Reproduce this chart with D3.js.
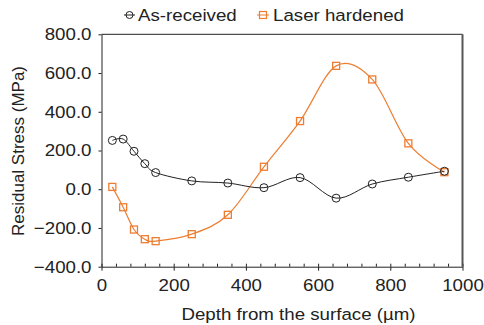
<!DOCTYPE html>
<html>
<head>
<meta charset="utf-8">
<script src="https://cdn.jsdelivr.net/npm/d3@7"></script>
<style>
  body { margin: 0; background: #fff; }
  svg { font-family: "Liberation Sans", Arial, sans-serif; }
</style>
</head>
<body>
<div id="container"></div>
<script>
// Data
var depth = [30, 60, 90, 120, 150, 250, 350, 450, 550, 650, 750, 850, 950];
var asReceived = [252, 259, 196, 132, 86, 43, 32, 8, 60, -46, 27, 62, 93];
var laserHardened = [12, -93, -208, -258, -268, -232, -132, 116, 352, 637, 567, 237, 88];
var xMajor = [0, 200, 400, 600, 800, 1000];
var yMajor = [-400, -200, 0, 200, 400, 600, 800];
var seriesNames = ["As-received", "Laser hardened"];

drawChart();

function drawChart() {

  var width = 484,
      height = 325;
  var plotLeft = 101.5, plotRight = 462.5, plotTop = 34.3, plotBottom = 266.7;
  var stretch = 1.1;   // text in the source is a little wider than Arial
  var orange = "#ED7D31", ink = "#222";

  var svg = d3.select("#container")
              .append("svg")
                .attr("width", width)
                .attr("height", height);

  var x = d3.scaleLinear().domain([0, 1000]).range([plotLeft, plotRight]);
  var y = d3.scaleLinear().domain([-400, 800]).range([plotBottom, plotTop]);

  // X axis: major ticks crossing the line, minor ticks every 40 inside
  var xAxis = svg.append("g")
      .attr("transform", "translate(0," + plotBottom + ")")
      .call(d3.axisBottom(x).tickValues(xMajor).tickSize(4).tickSizeOuter(0)
              .tickFormat(d3.format("d")).tickPadding(8));
  xAxis.selectAll("text")
      .attr("transform", "scale(" + stretch + ",1)");

  svg.append("g")
      .attr("transform", "translate(0," + plotBottom + ")")
      .call(d3.axisTop(x).tickValues(d3.range(0, 1001, 40)).tickSize(3).tickFormat(""))
      .select(".domain").remove();

  // Y axis
  var yAxis = svg.append("g")
      .attr("transform", "translate(" + plotLeft + ",0)")
      .call(d3.axisLeft(y).tickValues(yMajor).tickSize(3).tickSizeOuter(0)
              .tickFormat(d3.format(".1f")));
  yAxis.selectAll("text")
      .attr("transform", "scale(" + stretch + ",1)")
      .attr("x", -10 / stretch);

  svg.selectAll(".tick text")
      .attr("font-size", 17)
      .attr("font-family", "Liberation Sans, Arial, sans-serif")
      .attr("fill", ink);
  svg.selectAll(".domain, .tick line").attr("stroke", ink);

  // Top and right frame
  svg.append("line")
      .attr("x1", plotLeft).attr("x2", plotRight)
      .attr("y1", plotTop).attr("y2", plotTop)
      .attr("stroke", ink).attr("stroke-width", 1);
  svg.append("line")
      .attr("x1", plotRight).attr("x2", plotRight)
      .attr("y1", plotTop).attr("y2", plotBottom)
      .attr("stroke", "#555").attr("stroke-width", 2);

  // Smoothed lines
  var line = d3.line()
      .x(function(d) { return x(d[0]); })
      .y(function(d) { return y(d[1]); })
      .curve(d3.curveCardinal.tension(0));

  var blackData = d3.zip(depth, asReceived);
  var orangeData = d3.zip(depth, laserHardened);

  svg.append("path")
      .datum(orangeData)
      .attr("d", line)
      .attr("fill", "none")
      .attr("stroke", orange)
      .attr("stroke-width", 1.2);

  svg.append("path")
      .datum(blackData)
      .attr("d", line)
      .attr("fill", "none")
      .attr("stroke", ink)
      .attr("stroke-width", 1);

  // Markers
  svg.append("g")
    .selectAll("rect")
    .data(orangeData)
    .enter()
    .append("rect")
      .attr("x", function(d) { return x(d[0]) - 3.5; })
      .attr("y", function(d) { return y(d[1]) - 3.5; })
      .attr("width", 7)
      .attr("height", 7)
      .attr("fill", "none")
      .attr("stroke", orange)
      .attr("stroke-width", 1.3);

  svg.append("g")
    .selectAll("circle")
    .data(blackData)
    .enter()
    .append("circle")
      .attr("cx", function(d) { return x(d[0]); })
      .attr("cy", function(d) { return y(d[1]); })
      .attr("r", 4)
      .attr("fill", "none")
      .attr("stroke", ink)
      .attr("stroke-width", 1);

  // Legend
  var legend = svg.append("g");
  legend.append("line")
      .attr("x1", 124).attr("x2", 135).attr("y1", 15).attr("y2", 15)
      .attr("stroke", ink);
  legend.append("circle")
      .attr("cx", 129.5).attr("cy", 15).attr("r", 3.5)
      .attr("fill", "none").attr("stroke", ink);
  legend.append("text")
      .attr("transform", "translate(138,21) scale(" + stretch + ",1)")
      .attr("font-size", 17)
      .attr("fill", ink)
      .text(seriesNames[0]);

  legend.append("line")
      .attr("x1", 257).attr("x2", 269).attr("y1", 15).attr("y2", 15)
      .attr("stroke", orange);
  legend.append("rect")
      .attr("x", 259.5).attr("y", 11.5).attr("width", 7).attr("height", 7)
      .attr("fill", "none").attr("stroke", orange).attr("stroke-width", 1.2);
  legend.append("text")
      .attr("transform", "translate(273,21) scale(" + stretch + ",1)")
      .attr("font-size", 17)
      .attr("fill", ink)
      .text(seriesNames[1]);

  // Axis titles
  svg.append("text")
      .attr("transform", "translate(298.5,320) scale(" + stretch + ",1)")
      .attr("text-anchor", "middle")
      .attr("font-size", 17)
      .attr("fill", ink)
      .text("Depth from the surface (µm)");

  svg.append("text")
      .attr("transform", "translate(24,151) rotate(-90)")
      .attr("text-anchor", "middle")
      .attr("font-size", 17)
      .attr("fill", ink)
      .text("Residual Stress (MPa)");
}
</script>
</body>
</html>
